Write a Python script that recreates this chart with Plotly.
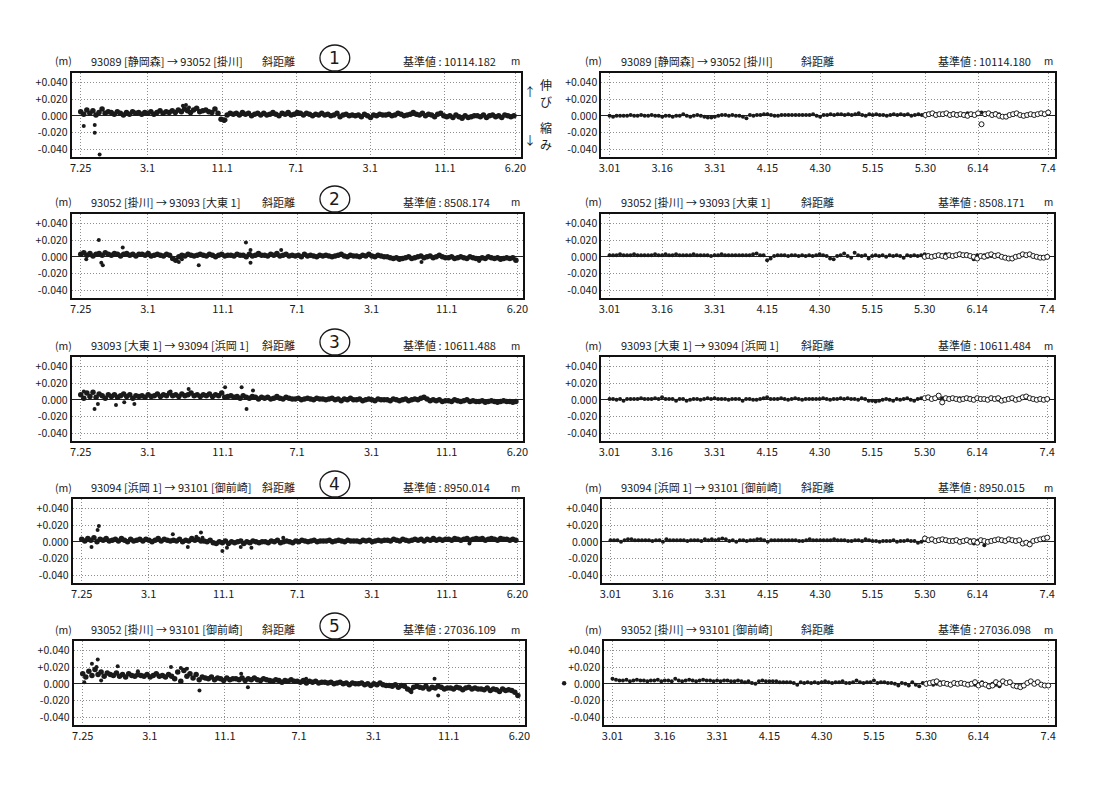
import plotly.graph_objects as go

W, H = 1093, 785

# ---------------- axis ticks ----------------
left_tick_days = [0, 219, 464, 706, 949, 1194, 1425]
left_tick_text = ["7.25", "3.1", "11.1", "7.1", "3.1", "11.1", "6.20"]
right_tick_days = [0, 15, 30, 45, 60, 75, 90, 105, 125]
right_tick_text = ["3.01", "3.16", "3.31", "4.15", "4.30", "5.15", "5.30", "6.14", "7.4"]
y_tick_vals = [0.04, 0.02, 0.0, -0.02, -0.04]
y_tick_text = ["+0.040", "+0.020", "0.000", "-0.020", "-0.040"]

# ---------------- panel texts ----------------
routes = [
    "93089 [静岡森] → 93052 [掛川]",
    "93052 [掛川] → 93093 [大東 1]",
    "93093 [大東 1] → 93094 [浜岡 1]",
    "93094 [浜岡 1] → 93101 [御前崎]",
    "93052 [掛川] → 93101 [御前崎]",
]
base_left = ["10114.182", "8508.174", "10611.488", "8950.014", "27036.109"]
base_right = ["10114.180", "8508.171", "10611.484", "8950.015", "27036.098"]
panel_numbers = ["1", "2", "3", "4", "5"]

# ---------------- long-term series (mm, one value every 10 days from 7.25) ----------------
left_step_days = 10
left1 = ([5, 2, 7, 3, 6, 1, 4, 8, 3, 5] + [4, 2, 5, 3, 1, 4, 2, 5, 3, 4] + [2, 4, 3, 5, 2, 4, 6, 3, 5, 4]
         + [6, 4, 7, 5, 8, 6, 4, 7, 9, 5] + [6, 7, 5, 4, 8, 3, -4, -5, 1, 3] + [2, 3, 1, 4, 2, 3, 0, 2, 3, 1]
         + [3, 1, 2, 4, 2, 0, 3, 2, 4, 1] + [2, 4, 3, 1, 3, 2, 0, 2, 1, 3] + [1, 2, 0, 1, 3, -1, 1, 2, 0, 1]
         + [0, 1, -1, 2, 0, -2, 1, 0, 2, 1] + [1, 2, 0, 1, 3, 2, 0, 1, 2, 4] + [2, 1, 3, 0, 2, 1, -1, 2, 3, 0]
         + [-1, 0, -2, 1, -1, -3, 0, -2, -1, 0] + [0, -1, 1, -2, 0, 1, -1, 0, -2, 1] + [0, -1, 0])
left2 = ([3, 5, 2, 4, 1, 3, 4, 2, 5, 3] + [2, 4, 3, 1, 3, 4, 2, 3, 1, 3] + [3, 2, 4, 1, 2, 3, 2, 1, 3, 2]
         + [-2, -4, 0, 2, 1, 3, 2, 1, 2, 3] + [2, 1, 3, 2, 0, 2, 3, 1, 2, 2] + [1, 3, 2, 2, 0, 3, 1, 2, 4, 2]
         + [2, 1, 3, 2, 4, 1, 2, 3, 1, 2] + [1, 2, 0, 3, 1, 2, 1, 0, 2, 1] + [2, 1, 0, 1, 2, 3, 1, 0, 2, 1]
         + [1, 0, 2, 1, 3, 1, 0, 2, 1, 0] + [0, -1, -2, -1, -3, -2, -1, 0, -2, -1] + [0, 1, -1, 0, 1, -1, 0, 2, 0, -1]
         + [-1, 0, -2, -1, 0, -1, -2, 0, -1, -2] + [-3, -1, -2, 0, -1, -2, -1, -3, -2, -1] + [-2, -1, -4])
left3 = ([6, 2, 8, 4, 9, 3, 7, 5, 2, 6] + [4, 6, 3, 5, 7, 4, 6, 2, 5, 4] + [5, 3, 6, 4, 5, 7, 4, 6, 5, 8]
         + [5, 6, 4, 7, 5, 6, 8, 5, 6, 4] + [6, 5, 7, 4, 6, 5, 8, 3, 4, 5] + [3, 4, 2, 5, 3, 2, 4, 3, 1, 3]
         + [2, 3, 1, 2, 4, 2, 1, 3, 2, 1] + [1, 2, 0, 1, 2, 1, 0, 2, 1, 1] + [0, 1, 2, 0, 1, -1, 1, 0, 2, 0]
         + [0, 1, -1, 0, 1, 0, -1, 1, 0, 0] + [0, -1, 1, 0, -1, 0, 1, -1, 0, 1] + [0, 2, 3, 1, -1, 0, -1, 0, -2, -1]
         + [-1, -2, 0, -1, -2, -1, 0, -2, -1, -2] + [-2, -1, -3, -2, -1, -2, -3, -2, -1, -2] + [-2, -3, -2])
left4 = ([3, 1, 4, 2, 5, 0, 3, 2, 4, 1] + [2, 3, 1, 4, 2, 0, 3, 1, 2, 3] + [1, 3, 2, 0, 2, 4, 1, 3, 2, 1]
         + [2, 1, 3, 0, 2, 1, 4, 2, 3, 1] + [1, 0, 2, -1, -2, 0, -1, 1, -2, 0] + [-1, 0, 1, -2, 0, -1, 1, 0, -1, 0]
         + [0, -1, 1, 0, 2, -1, 0, 1, 0, -1] + [1, 0, 2, 1, 0, 1, 2, 0, 1, 1] + [1, 2, 0, 1, 2, 1, 0, 2, 1, 1]
         + [1, 0, 2, 1, 2, 0, 1, 2, 1, 2] + [2, 1, 3, 2, 1, 3, 2, 1, 2, 3] + [2, 3, 1, 3, 2, 4, 2, 3, 2, 3]
         + [3, 2, 4, 3, 2, 3, 4, 2, 3, 4] + [3, 4, 2, 3, 4, 3, 2, 4, 3, 3] + [2, 3, 2])
left5 = ([12, 8, 15, 10, 17, 11, 14, 9, 13, 11] + [10, 13, 9, 11, 8, 12, 10, 9, 11, 10] + [9, 11, 8, 10, 12, 9, 10, 8, 11, 9]
         + [6, 14, 3, 16, 9, 12, 7, 11, 5, 8] + [7, 6, 8, 5, 7, 6, 4, 7, 5, 6] + [6, 5, 7, 4, 6, 5, 7, 5, 4, 6]
         + [5, 4, 3, 5, 4, 2, 4, 3, 5, 3] + [3, 2, 4, 1, 3, 2, 3, 1, 2, 2] + [1, 2, 0, 1, 2, 0, 1, -1, 1, 0]
         + [0, 1, -1, 0, -2, 0, -1, 1, -1, -2] + [-2, -3, -1, -4, -2, -3, -6, -8, -4, -3] + [-4, -5, -3, -6, -4, -5, -3, -4, -6, -5]
         + [-5, -6, -4, -5, -7, -5, -4, -6, -5, -6] + [-6, -7, -5, -8, -6, -7, -9, -6, -8, -7] + [-8, -10, -14])
left_series = [left1, left2, left3, left4, left5]

# scattered single points (day from 7.25, mm)
out_days_1 = [10, 46, 46, 62, 335, 345, 355, 470, 475]
out_mm_1 = [-12, -11, -20, -46, 12, 13, 10, -6, -5]
out_days_2 = [18, 59, 67, 72, 137, 320, 330, 385, 539, 554, 554, 654, 1112, 1300]
out_mm_2 = [-3, 20, -7, -10, 11, -6, -3, -10, 17, 8, -7, 8, -6, -5]
out_days_3 = [10, 45, 56, 115, 142, 175, 293, 352, 471, 525, 541, 562]
out_mm_3 = [10, -11, -5, -6, -3, -5, 10, 13, 15, 15, -11, 11]
out_days_4 = [32, 52, 56, 298, 347, 375, 390, 395, 460, 475, 520, 555, 659, 1268]
out_mm_4 = [-6, 14, 19, 9, -6, 6, 11, 5, -11, -7, -6, -7, 5, -2]
out_days_5 = [5, 30, 45, 49, 60, 114, 180, 288, 320, 340, 381, 517, 539, 729, 1072, 1148, 1160]
out_mm_5 = [2, 24, 20, 29, 4, 21, 15, 20, 19, 18, -8, 12, -4, 6, -10, 6, -14]
out_days = [out_days_1, out_days_2, out_days_3, out_days_4, out_days_5]
out_mm = [out_mm_1, out_mm_2, out_mm_3, out_mm_4, out_mm_5]

# ---------------- recent series (mm, daily from 3.01) ----------------
right_fill_start = 0
right_open_start = 90
right_fill_1 = ([0, -1, 0, 0, 0, 0, 1, 0, 0, 1] + [0, 0, 1, 0, 0, -1, 0, 0, -1, 0] + [0, 2, 0, -1, 0, 1, 0, -1, -2, -2]
                + [-1, 0, 1, 1, 0, 1, 0, 0, -1, -3] + [1, 0, 1, 1, 2, 2, 1, 0, 0, 1] + [1, 1, 1, 1, 1, 1, 1, 1, 2, 0]
                + [-1, 1, 1, 2, 1, 2, 2, 1, 2, 1] + [2, 3, 1, 0, 2, 1, 2, 1, 1, 0] + [1, 2, 1, 2, 1, 2, 0, 1, 2, 1]
                + [2, 1, 3, 2, 1, 2, 2, 1, 3, 2] + [1, 2, 3, 2, 1, 2, 4, 3, 2, 2] + [3, 2])
right_open_1 = ([1, 2, 3, 1, 2, 2, 3, 1, 2, 1] + [2, 1, 0, 2, 1, 3, -10, 2, 3, 1]
                + [2, 0, -1, -1, 1, 2, 3, 1, 0, 1] + [2, 1, 2, 3, 2, 4])
right_fill_2 = ([2, 2, 2, 3, 2, 2, 2, 3, 2, 2] + [2, 2, 2, 3, 2, 2, 3, 2, 2, 3] + [2, 2, 2, 2, 3, 2, 2, 2, 2, 1]
                + [2, 2, 3, 2, 2, 2, 2, 2, 2, 2] + [2, 3, 4, 2, 2, -4, -2, 1, 2, 2] + [2, 1, 2, 2, 1, 2, 1, 2, 1, 2]
                + [3, 2, 1, -2, -3, 1, 2, 4, 1, -1] + [5, 2, 1, 2, -2, 1, 2, 1, 2, 0] + [2, 1, 2, 1, -1, 2, 1, 2, 1, 2]
                + [3, 2, 1, 0, 2, 1, 3, 2, 1, 2] + [4, 2, 3, 1, -3, 2, 1, 2, 0, 1] + [2, 1])
right_open_2 = ([0, 1, 0, 1, 2, 1, 0, 2, 1, 2] + [3, 2, 2, 1, 0, -2, 1, 0, 2, 3]
                + [1, 2, 0, -1, -2, -2, 0, 1, 3, 2] + [3, 1, 0, -1, -1, 0])
right_fill_3 = ([1, 1, 0, 1, -1, 1, 1, 1, 1, 2] + [1, 1, 1, 2, 1, 3, 1, 1, 1, -1] + [1, 1, -1, 0, 1, 1, 0, 1, 2, 1]
                + [2, 1, 1, 1, 0, 1, 1, 1, -1, 1] + [1, 0, 0, 1, 2, 3, 1, 1, 1, 2] + [1, 0, 1, 2, 1, 0, 1, 1, 1, 1]
                + [1, 2, 1, 0, 1, 1, 2, 1, 2, 1] + [1, 0, 2, 1, -1, -1, -2, -1, 0, 1] + [0, -1, 1, 0, 1, 2, 0, -1, 1, 2]
                + [1, 3, 1, 2, 4, 2, 1, 2, 1, 1] + [2, 1, 1, 2, 1, 2, 0, 1, 1, 2] + [1, 0])
right_open_3 = ([2, 3, 1, 2, 5, -3, 2, 1, 2, 1] + [0, 1, 2, 1, 0, 2, 1, 1, 0, 2]
                + [1, 2, -1, 0, 1, 2, 0, 1, 3, 4] + [2, 1, 0, 1, 0, 1])
right_fill_4 = ([2, 2, 2, 0, 2, 3, 3, 2, 2, 2] + [2, 2, 1, 2, 2, 0, 3, 2, 2, 2] + [2, 2, 1, 2, 2, 2, 1, 3, 2, 3]
                + [2, 3, 4, 3, 1, 2, 0, 2, 2, 1] + [2, 2, 3, 3, 2, 0, 2, 2, 2, 2] + [2, 2, 2, 2, 1, 1, 2, 3, 2, 2]
                + [2, 2, 2, 2, 3, 2, 2, 2, 1, 1] + [2, 2, 1, 3, 2, 1, 1, 0, 1, 1] + [1, 2, 0, 1, 1, 2, 1, 1, -1, 0]
                + [2, 1, 3, 2, 1, 2, 2, 1, 2, 1] + [1, 0, 1, 2, -2, 1, 1, -4, 0, 2] + [1, 2])
right_open_4 = ([4, 2, 3, 1, 2, 3, 2, 1, 1, 2] + [0, 1, 2, 0, 1, -1, 2, 1, 0, 1]
                + [2, 3, 2, 1, 3, 2, 1, 2, -2, -1] + [-3, 1, 2, 3, 4, 5])
right_fill_5 = ([6, 5, 4, 4, 5, 3, 4, 5, 4, 4] + [3, 4, 4, 5, 3, 4, 4, 3, 6, 4] + [3, 4, 5, 4, 3, 4, 5, 4, 4, 3]
                + [4, 3, 4, 4, 3, 3, 4, 3, 2, 3] + [1, 0, 3, 4, 3, 3, 3, 3, 2, 2] + [2, 2, 1, -1, 2, 1, 2, 1, 2, 1]
                + [2, 3, 2, 1, 2, 2, 3, 1, 1, 2] + [4, 2, 1, 2, 2, 4, 1, 2, 2, 1] + [1, 0, -2, 1, 0, -2, 2, -1, -3, 1]
                + [0, 1, -1, 0, 2, 0, 1, -2, 0, 1] + [1, 0, -1, 1, -1, 0, 2, -1, -4, 0] + [-1, -3])
right_open_5 = ([0, 1, 2, 3, 0, 1, 0, -1, 1, 0] + [1, 0, -1, 0, 2, -2, 0, -1, -3, -2]
                + [2, 0, 3, 1, 2, -2, -3, -4, -2, 1] + [3, 0, 2, -1, -2, -2])
right_fill = [right_fill_1, right_fill_2, right_fill_3, right_fill_4, right_fill_5]
right_open = [right_open_1, right_open_2, right_open_3, right_open_4, right_open_5]

# ---------------- layout geometry (pixels) ----------------
row_top = [73, 214, 357, 499, 641]
row_h = 84
lx0 = [70, 70, 70, 71, 72]
lx1 = [522, 524, 524, 524, 526]
rx0 = [603, 603, 603, 604, 606]
rx1 = [1060, 1059, 1059, 1059, 1060]
left_range = [-30, 1442]
right_range = [-2.4, 127]
y_range = [-0.049, 0.051]

FONT = "Noto Sans CJK JP"
INK = "#1a1a1a"
GRID = "#8f8f8f"
GRID_DASH = "1px,2px"


def fx(p):
    return p / W


def fy(p):
    return 1 - p / H


fig = go.Figure()
annotations = []
shapes = []

for i in range(5):
    la, ra = 2 * i + 1, 2 * i + 2
    lsuf = "" if la == 1 else str(la)
    rsuf = str(ra)
    ydom = [fy(row_top[i] + row_h), fy(row_top[i])]

    # long-term band
    xs = [k * left_step_days for k in range(len(left_series[i]))]
    fig.add_trace(go.Scatter(
        x=xs, y=[v / 1000 for v in left_series[i]], mode="markers",
        marker=dict(size=5.5, color=INK), xaxis="x" + lsuf, yaxis="y" + lsuf,
        showlegend=False, hoverinfo="skip"))
    fig.add_trace(go.Scatter(
        x=out_days[i], y=[v / 1000 for v in out_mm[i]], mode="markers",
        marker=dict(size=4, color=INK), xaxis="x" + lsuf, yaxis="y" + lsuf,
        showlegend=False, hoverinfo="skip"))

    # recent: filled and open
    xf = [right_fill_start + k for k in range(len(right_fill[i]))]
    fig.add_trace(go.Scatter(
        x=xf, y=[v / 1000 for v in right_fill[i]], mode="markers",
        marker=dict(size=4, color=INK), xaxis="x" + rsuf, yaxis="y" + rsuf,
        showlegend=False, hoverinfo="skip"))
    xo = [right_open_start + k for k in range(len(right_open[i]))]
    fig.add_trace(go.Scatter(
        x=xo, y=[v / 1000 for v in right_open[i]], mode="markers",
        marker=dict(size=5, color="white", line=dict(color=INK, width=1)),
        xaxis="x" + rsuf, yaxis="y" + rsuf, showlegend=False, hoverinfo="skip"))

    common_x = dict(showgrid=True, gridcolor=GRID, griddash=GRID_DASH, gridwidth=1,
                    showline=True, mirror=True, linecolor="#111", linewidth=1.6,
                    ticks="", zeroline=False, tickfont=dict(family=FONT, size=11, color=INK),
                    fixedrange=True)
    common_y = dict(range=y_range, tickvals=y_tick_vals, ticktext=y_tick_text,
                    showgrid=True, gridcolor=GRID, griddash=GRID_DASH, gridwidth=1,
                    zeroline=True, zerolinecolor="#222", zerolinewidth=1,
                    showline=True, mirror=True, linecolor="#111", linewidth=1.6,
                    ticks="", tickfont=dict(family=FONT, size=10.5, color=INK),
                    fixedrange=True)
    fig.layout["xaxis" + lsuf] = dict(common_x, domain=[fx(lx0[i]), fx(lx1[i])], range=left_range,
                                      tickvals=left_tick_days, ticktext=left_tick_text,
                                      anchor="y" + lsuf)
    fig.layout["yaxis" + lsuf] = dict(common_y, domain=ydom, anchor="x" + lsuf)
    fig.layout["xaxis" + rsuf] = dict(common_x, domain=[fx(rx0[i]), fx(rx1[i])], range=right_range,
                                      tickvals=right_tick_days, ticktext=right_tick_text,
                                      anchor="y" + rsuf)
    fig.layout["yaxis" + rsuf] = dict(common_y, domain=ydom, anchor="x" + rsuf)

    ty = row_top[i] - 12

    def txt(x, s, anchor="left", size=11):
        annotations.append(dict(x=fx(x), y=fy(ty), xref="paper", yref="paper", text=s,
                                showarrow=False, xanchor=anchor, yanchor="middle",
                                font=dict(family=FONT, size=size, color=INK)))

    # left header
    txt(62, "(m)", "center", 10.5)
    txt(88, routes[i])
    txt(260, "斜距離")
    txt(402, "基準値 : " + base_left[i])
    txt(517, "m", "center", 10)
    # right header
    txt(595, "(m)", "center", 10.5)
    txt(621, routes[i])
    txt(802, "斜距離")
    txt(940, "基準値 : " + base_right[i])
    txt(1053, "m", "center", 10)

    # handwritten circled panel number
    cx, cy = 335, row_top[i] - 15
    shapes.append(dict(type="circle", xref="paper", yref="paper",
                       x0=fx(cx - 15), x1=fx(cx + 15), y0=fy(cy + 13), y1=fy(cy - 13),
                       line=dict(color=INK, width=1.3)))
    annotations.append(dict(x=fx(cx), y=fy(cy), xref="paper", yref="paper", text=panel_numbers[i],
                            showarrow=False, xanchor="center", yanchor="middle",
                            font=dict(family="DejaVu Sans", size=17, color=INK)))

# expansion / contraction marks beside the first panel
for s, x, y, size in [("↑", 531, 92, 12), ("伸", 548, 85, 12), ("び", 548, 102, 12),
                      ("↓", 531, 140, 12), ("縮", 548, 128, 12), ("み", 548, 145, 12)]:
    annotations.append(dict(x=fx(x), y=fy(y), xref="paper", yref="paper", text=s, showarrow=False,
                            xanchor="center", yanchor="middle",
                            font=dict(family=FONT, size=size, color=INK)))

# stray printed dot on the scan
shapes.append(dict(type="circle", xref="paper", yref="paper", x0=fx(563.5), x1=fx(568),
                   y0=fy(685.5), y1=fy(681), fillcolor=INK, line=dict(width=0)))

fig.update_layout(width=W, height=H, margin=dict(l=0, r=0, t=0, b=0),
                  paper_bgcolor="white", plot_bgcolor="white",
                  annotations=annotations, shapes=shapes, showlegend=False,
                  font=dict(family=FONT, color=INK))

fig.write_html("out.html", config={"displayModeBar": False},
               post_script="document.body.style.margin='0';")
